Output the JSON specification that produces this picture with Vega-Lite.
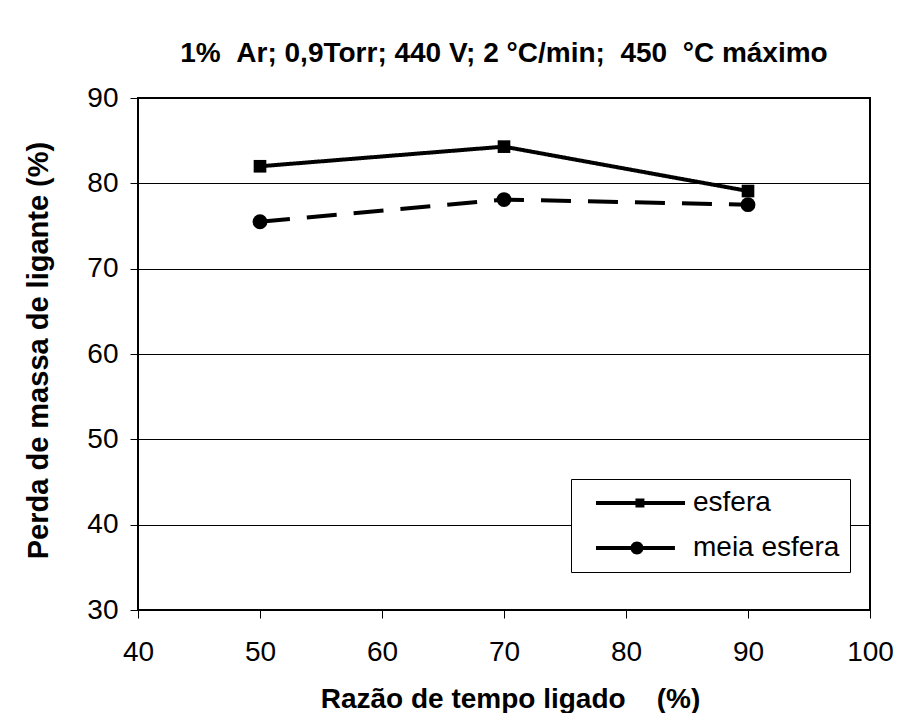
{
  "$schema": "https://vega.github.io/schema/vega-lite/v6.json",
  "autosize": {"type": "none"},
  "width": 732,
  "height": 512,
  "padding": {"left": 138, "top": 98, "right": 28, "bottom": 103},
  "background": "white",
  "title": {
    "text": "1%\u00a0\u00a0Ar; 0,9Torr; 440 V; 2 °C/min;\u00a0\u00a0450\u00a0\u00a0°C máximo",
    "anchor": "middle",
    "font": "Liberation Sans",
    "fontSize": 28,
    "fontWeight": "bold",
    "color": "black",
    "baseline": "alphabetic",
    "offset": 38,
    "dy": 44
  },
  "data": {
    "values": [
      {"razao": 50, "perda": 82.0, "serie": "esfera"},
      {"razao": 70, "perda": 84.3, "serie": "esfera"},
      {"razao": 90, "perda": 79.1, "serie": "esfera"},
      {"razao": 50, "perda": 75.5, "serie": "meia esfera"},
      {"razao": 70, "perda": 78.1, "serie": "meia esfera"},
      {"razao": 90, "perda": 77.5, "serie": "meia esfera"}
    ]
  },
  "encoding": {
    "x": {
      "field": "razao",
      "type": "quantitative",
      "scale": {"domain": [40, 100], "nice": false, "zero": false},
      "axis": {
        "title": "Razão de tempo ligado\u00a0\u00a0\u00a0\u00a0(%)",
        "values": [40, 50, 60, 70, 80, 90, 100],
        "grid": false,
        "domain": false,
        "tickColor": "black",
        "tickSize": 8,
        "tickWidth": 1,
        "labelFont": "Liberation Sans",
        "labelFontSize": 28,
        "labelColor": "black",
        "labelPadding": 20,
        "labelBaseline": "top",
        "labelFlush": false,
        "labelOverlap": false,
        "titleFont": "Liberation Sans",
        "titleFontSize": 28,
        "titleFontWeight": "bold",
        "titleColor": "black",
        "titleBaseline": "alphabetic",
        "titleAlign": "center",
        "titleX": 372,
        "titleY": 97
      }
    },
    "y": {
      "field": "perda",
      "type": "quantitative",
      "scale": {"domain": [30, 90], "nice": false, "zero": false},
      "axis": {
        "title": "Perda de massa de ligante (%)",
        "values": [30, 40, 50, 60, 70, 80, 90],
        "grid": true,
        "gridColor": "black",
        "gridWidth": 1,
        "gridOpacity": 1,
        "domain": false,
        "tickColor": "black",
        "tickSize": 8,
        "tickWidth": 1,
        "labelFont": "Liberation Sans",
        "labelFontSize": 28,
        "labelColor": "black",
        "labelPadding": 12,
        "labelBaseline": "middle",
        "labelFlush": false,
        "labelOverlap": false,
        "titleFont": "Liberation Sans",
        "titleFontSize": 29,
        "titleFontWeight": "bold",
        "titleColor": "black",
        "titleAngle": 270,
        "titleBaseline": "alphabetic",
        "titleAlign": "center",
        "titleX": -91,
        "titleY": 252
      }
    }
  },
  "layer": [
    {
      "mark": {"type": "line", "color": "black", "strokeWidth": 4, "strokeCap": "butt"},
      "encoding": {
        "strokeDash": {
          "field": "serie",
          "type": "nominal",
          "scale": {"domain": ["esfera", "meia esfera"], "range": [[1, 0], [30, 17]]},
          "legend": {
            "title": null,
            "orient": "none",
            "legendX": 433,
            "legendY": 381,
            "padding": 10,
            "strokeColor": "black",
            "fillColor": "white",
            "symbolSize": 784,
            "symbolOffset": 0,
            "rowPadding": 17,
            "labelOffset": 84,
            "labelFont": "Liberation Sans",
            "labelFontSize": 28,
            "labelColor": "black",
            "labelLimit": 400,
            "encoding": {
              "symbols": {
                "shape": {
                  "condition": {"test": "datum.value === 'esfera'", "value": "M0.07,-0.143H6.43V0.143H0.07ZM2.89,-0.32H3.53V0.32H2.89Z"},
                  "value": "M0.07,-0.143H5.71V0.143H0.07ZM2.536,0A0.464,0.464 0 1,1 3.464,0A0.464,0.464 0 1,1 2.536,0Z"
                },
                "fill": {"value": "black"},
                "fillOpacity": {"value": 1},
                "stroke": {"value": "transparent"},
                "strokeWidth": {"value": 0},
                "strokeDash": {"value": [1, 0]},
                "opacity": {"value": 1}
              }
            }
          }
        }
      }
    },
    {
      "mark": {"type": "point", "filled": true, "color": "black", "opacity": 1},
      "encoding": {
        "shape": {
          "condition": {"test": "datum.serie === 'esfera'", "value": "square"},
          "value": "circle"
        },
        "size": {
          "condition": {"test": "datum.serie === 'esfera'", "value": 160},
          "value": 220
        }
      }
    }
  ],
  "config": {
    "view": {"stroke": "black", "strokeWidth": 2}
  }
}
